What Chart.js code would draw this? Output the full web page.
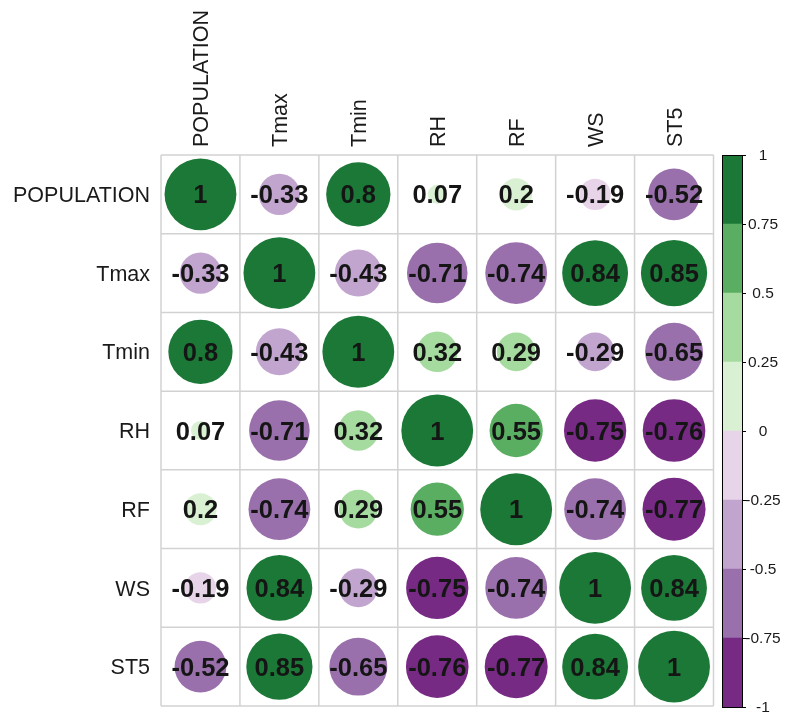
<!DOCTYPE html>
<html>
<head>
<meta charset="utf-8">
<script src="https://cdn.jsdelivr.net/npm/chart.js@4/dist/chart.umd.min.js"></script>
<style>
  html, body { margin: 0; padding: 0; background: #ffffff; }
  #wrap { position: relative; width: 785px; height: 715px; }
  #wrap canvas { position: absolute; left: 0; top: 0; }
</style>
</head>
<body>
<div id="wrap">
  <canvas id="matrix" width="785" height="715"></canvas>
  <canvas id="legend" width="785" height="715"></canvas>
</div>
<script>
// Variable names (rows top-to-bottom, columns left-to-right)
const variables = ['POPULATION', 'Tmax', 'Tmin', 'RH', 'RF', 'WS', 'ST5'];

// Correlation coefficients, one array per row
const rowPopulation = [1, -0.33, 0.8, 0.07, 0.2, -0.19, -0.52];
const rowTmax       = [-0.33, 1, -0.43, -0.71, -0.74, 0.84, 0.85];
const rowTmin       = [0.8, -0.43, 1, 0.32, 0.29, -0.29, -0.65];
const rowRH         = [0.07, -0.71, 0.32, 1, 0.55, -0.752, -0.76];
const rowRF         = [0.2, -0.74, 0.29, 0.55, 1, -0.74, -0.77];
const rowWS         = [-0.19, 0.84, -0.29, -0.752, -0.74, 1, 0.84];
const rowST5        = [-0.52, 0.85, -0.65, -0.76, -0.77, 0.84, 1];
const corrRows = [rowPopulation, rowTmax, rowTmin, rowRH, rowRF, rowWS, rowST5];

// Diverging purple-green palette, 8 bins from -1 to 1
const palette = ['#762A83', '#9970AB', '#C2A5CF', '#E7D4E8', '#D9F0D3', '#A6DBA0', '#5AAE61', '#1B7837'];
const colorbarTicks = [1, 0.75, 0.5, 0.25, 0, -0.25, -0.5, -0.75, -1];
const colorbarLabels = ['1', '0.75', '0.5', '0.25', '0', '-0.25', '-0.5', '-0.75', '-1'];

const FONT = '"Liberation Sans", Arial, Helvetica, sans-serif';

function colorFor(v) {
  let t = (v + 1) / 2;
  t = Math.min(Math.max(t, 0), 1 - 1e-9);
  return palette[Math.floor(t * palette.length)];
}
function formatValue(v) {
  return String(Number(v.toFixed(2)));
}

const points = [];
corrRows.forEach((row, i) => row.forEach((v, j) => points.push({ x: j, y: i, v: v })));

function cellSize(chart) {
  const xs = chart.scales.x;
  return Math.abs(xs.getPixelForValue(1) - xs.getPixelForValue(0));
}

// Grid lines and variable labels around the matrix
const matrixDecor = {
  id: 'matrixDecor',
  beforeDatasetsDraw(chart) {
    const { ctx, scales: { x, y } } = chart;
    const n = variables.length;
    ctx.save();
    ctx.strokeStyle = '#d2d2d2';
    ctx.lineWidth = 1.5;
    const top = y.getPixelForValue(-0.5), bottom = y.getPixelForValue(n - 0.5);
    const left = x.getPixelForValue(-0.5), right = x.getPixelForValue(n - 0.5);
    for (let k = 0; k <= n; k++) {
      const px = x.getPixelForValue(k - 0.5);
      ctx.beginPath(); ctx.moveTo(px, top); ctx.lineTo(px, bottom); ctx.stroke();
      const py = y.getPixelForValue(k - 0.5);
      ctx.beginPath(); ctx.moveTo(left, py); ctx.lineTo(right, py); ctx.stroke();
    }
    // row labels
    ctx.fillStyle = '#1a1a1a';
    ctx.font = '21.5px ' + FONT;
    ctx.textAlign = 'right';
    ctx.textBaseline = 'alphabetic';
    variables.forEach((name, i) => {
      ctx.fillText(name, left - 11, y.getPixelForValue(i) + 7.7);
    });
    // column labels, vertical
    ctx.textAlign = 'left';
    variables.forEach((name, j) => {
      ctx.save();
      ctx.translate(x.getPixelForValue(j) + 7.7, top - 8);
      ctx.rotate(-Math.PI / 2);
      ctx.fillText(name, 0, 0);
      ctx.restore();
    });
    ctx.restore();
  },
  afterDatasetsDraw(chart) {
    const { ctx, scales: { x, y } } = chart;
    ctx.save();
    ctx.fillStyle = '#151515';
    ctx.font = 'bold 25.5px ' + FONT;
    ctx.textAlign = 'center';
    ctx.textBaseline = 'alphabetic';
    points.forEach(p => {
      ctx.fillText(formatValue(p.v), x.getPixelForValue(p.x), y.getPixelForValue(p.y) + 9.1);
    });
    ctx.restore();
  }
};

new Chart(document.getElementById('matrix'), {
  type: 'scatter',
  data: {
    datasets: [{
      data: points,
      pointStyle: 'circle',
      clip: false,
      pointRadius: ctx => {
        const c = cellSize(ctx.chart) || 79;
        return Math.sqrt(Math.abs(ctx.raw.v)) * 0.455 * c;
      },
      pointBackgroundColor: ctx => colorFor(ctx.raw.v),
      pointBorderWidth: 0,
      pointBorderColor: 'rgba(0,0,0,0)'
    }]
  },
  options: {
    responsive: false,
    devicePixelRatio: 1,
    animation: false,
    events: [],
    layout: { autoPadding: false, padding: { left: 161, top: 155, right: 71.5, bottom: 9 } },
    plugins: { legend: { display: false }, tooltip: { enabled: false } },
    scales: {
      x: { type: 'linear', min: -0.5, max: 6.5, display: false },
      y: { type: 'linear', min: -0.5, max: 6.5, reverse: true, display: false }
    }
  },
  plugins: [matrixDecor]
});

// Colour key: eight stacked bins on a -1..1 scale
const binLows = [-1, -0.75, -0.5, -0.25, 0, 0.25, 0.5, 0.75];
const binHighs = [-0.75, -0.5, -0.25, 0, 0.25, 0.5, 0.75, 1];

const legendDecor = {
  id: 'legendDecor',
  afterDatasetsDraw(chart) {
    const { ctx, chartArea: a, scales: { y } } = chart;
    ctx.save();
    ctx.strokeStyle = '#000000';
    ctx.lineWidth = 1;
    ctx.strokeRect(Math.round(a.left) + 0.5, Math.round(a.top) + 0.5,
                   Math.round(a.right - a.left), Math.round(a.bottom - a.top));
    ctx.fillStyle = '#1a1a1a';
    ctx.font = '15.5px ' + FONT;
    ctx.textAlign = 'center';
    ctx.textBaseline = 'middle';
    colorbarTicks.forEach((t, k) => {
      const py = Math.round(y.getPixelForValue(t)) + 0.5;
      ctx.beginPath();
      ctx.moveTo(a.right, py);
      ctx.lineTo(a.right + 4, py);
      ctx.stroke();
      ctx.fillText(colorbarLabels[k], 763, py);
    });
    ctx.restore();
  }
};

new Chart(document.getElementById('legend'), {
  type: 'bar',
  data: {
    labels: ['key'],
    datasets: palette.map((c, k) => ({
      data: [[binLows[k], binHighs[k]]],
      backgroundColor: c,
      borderWidth: 0,
      grouped: false,
      barPercentage: 1,
      categoryPercentage: 1
    }))
  },
  options: {
    responsive: false,
    devicePixelRatio: 1,
    animation: false,
    events: [],
    layout: { padding: { left: 722, top: 155, right: 43, bottom: 8 } },
    plugins: { legend: { display: false }, tooltip: { enabled: false } },
    scales: {
      x: { display: false },
      y: { type: 'linear', min: -1, max: 1, display: false }
    }
  },
  plugins: [legendDecor]
});
</script>
</body>
</html>
